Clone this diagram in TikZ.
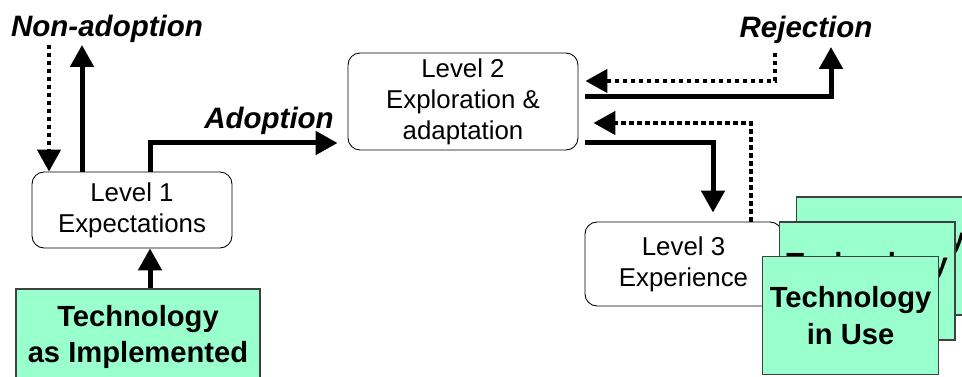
\documentclass[tikz,border=0pt]{standalone}
\usepackage{fontspec}
\setmainfont{Liberation Sans}
\usetikzlibrary{arrows.meta}

\definecolor{techgreen}{HTML}{99FFCC}

\tikzset{
  level/.style={draw, rounded corners=0.24cm, line width=0.5pt, align=center, inner sep=0pt,
    font=\fontsize{14.7}{17.6}\selectfont},
  techbox/.style={draw=black!75, fill=techgreen, line width=0.6pt, align=center, inner sep=0pt,
    font=\fontsize{16.6}{20.6}\selectfont\bfseries},
  tuse/.style={techbox, minimum width=3.52cm, minimum height=2.36cm},
  solarr/.style={line width=0.1cm, -{Triangle[width=0.46cm,length=0.44cm]}},
  dotarr/.style={line width=0.09cm, dash pattern=on 0.09cm off 0.07cm, -{Triangle[width=0.46cm,length=0.44cm]}},
  lbl/.style={font=\fontsize{16.8}{19}\selectfont\bfseries\itshape, anchor=base}
}

\begin{document}
\begin{tikzpicture}[x=0.02cm, y=-0.02cm]
    \useasboundingbox (0,0) rectangle (962,377);
    \clip (0,0) rectangle (962,377);

    % Levels
    \node[level, minimum width=4cm, minimum height=1.52cm] (lvl1) at (132,210) {Level 1\\Expectations};
    \node[level, minimum width=4.6cm, minimum height=1.94cm] (lvl2) at (463,101.5) {Level 2\\Exploration \&\\adaptation};
    \node[level, minimum width=3.94cm, minimum height=1.68cm] (lvl3) at (683.5,264) {Level 3\\Experience};

    % Technology boxes (stack of three on the right)
    \node[techbox, minimum width=4.88cm, minimum height=1.92cm] (timpl) at (138,337) {Technology\\as Implemented};
    \node[tuse] (tuse3) at (884,256) {Technology\\in Use};
    \node[tuse] (tuse2) at (867,281) {Technology\\in Use};
    \node[tuse] (tuse1) at (850.5,315.5) {Technology\\in Use};

    % Labels
    \node[lbl] (nonadopt) at (107,37) {Non-adoption};
    \node[lbl] (adopt) at (269,129) {Adoption};
    \node[lbl] (reject) at (806,38) {Rejection};

    % Turning points
    \coordinate (nadin) at (49,45);
    \coordinate (nadout) at (82,45);
    \coordinate (adoptturn) at (150,143);
    \coordinate (rejin) at (775,53);
    \coordinate (rejturn) at (775,81);
    \coordinate (rejbase) at (831,97);
    \coordinate (rejout) at (831,47);
    \coordinate (fbturn) at (751,123);
    \coordinate (expturn) at (713,143);

    % Level 1
    \draw[solarr] ([xshift=0.24cm]timpl.north) -- ([xshift=0.24cm]timpl.north |- lvl1.south);
    \draw[dotarr] (nadin) -- (nadin |- lvl1.north);
    \draw[solarr] (nadout |- lvl1.north) -- (nadout);
    \draw[solarr, shorten >=0.2cm] (adoptturn |- lvl1.north) |- (lvl2.west |- adoptturn);

    % Level 2
    \draw[dotarr, shorten >=0.14cm] (rejin) -- (rejturn) -- (rejturn -| lvl2.east);
    \draw[solarr, shorten <=0.14cm] (rejbase -| lvl2.east) -| (rejout);
    \draw[dotarr, shorten >=0.3cm] (fbturn |- lvl3.north) -- (fbturn) -- (fbturn -| lvl2.east);
    \draw[solarr, shorten <=0.14cm, shorten >=0.18cm] (expturn -| lvl2.east) -| (expturn |- lvl3.north);
\end{tikzpicture}
\end{document}
